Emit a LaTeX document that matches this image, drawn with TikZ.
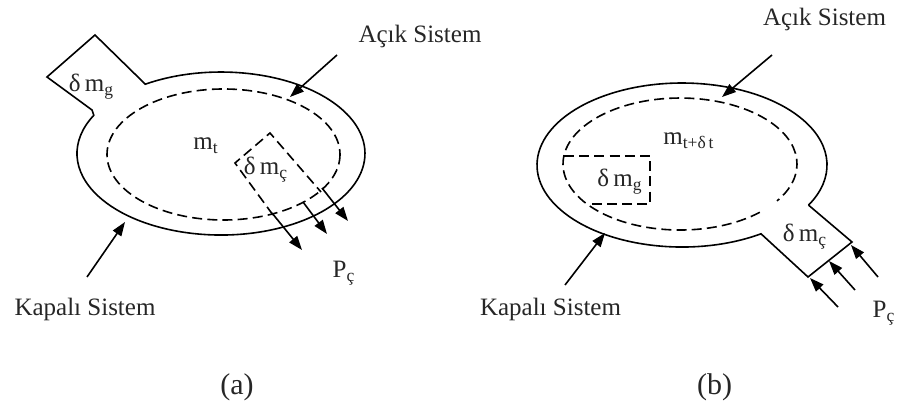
\documentclass[tikz,border=0pt]{standalone}
\usepackage{fontspec}
\setmainfont{Liberation Serif}
\usetikzlibrary{arrows.meta}
\begin{document}
\begin{tikzpicture}[x=0.5pt,y=-0.5pt,
  solidline/.style={draw=black, line width=0.8pt},
  dashline/.style={draw=black, line width=0.8pt, dash pattern=on 5pt off 2.6pt},
  arr/.style={draw=black, line width=0.8pt, -{Triangle[length=7pt,width=5pt]}},
  lbl/.style={inner sep=0pt, anchor=base, font=\fontsize{12.5}{15}\selectfont, text=black!85},
  caplbl/.style={inner sep=0pt, anchor=center, font=\fontsize{15}{18}\selectfont, text=black!85}]
\useasboundingbox (0,0) rectangle (898,405);

% ---------------- (a) ----------------
% outer (closed system) with inlet box
\draw[solidline] (145.3,84.2) arc[start angle=238.3, end angle=568, x radius=144, y radius=81.5]
   -- (92,110) -- (47,77) -- (95,35) -- cycle;
% inner dashed (open system)
\draw[dashline] (223.5,154.5) ellipse[x radius=116.5, y radius=65.5];
% outgoing dashed mass element
\draw[dashline] (273,215) -- (235,163) -- (270,133) -- (321,192);

\node[lbl] (aAcik) at (420,43) {Açık Sistem};
\node[lbl] (aKapali) at (85,315) {Kapalı Sistem};
\node[lbl] (amt) at (206,150) {m\textsubscript{t}};
\node[lbl] (admg) at (91.5,92) {δ\,m\textsubscript{g}};
\node[lbl] (admc) at (266,175) {δ\,m\textsubscript{ç}};
\node[lbl] (aPc) at (344,278) {P\textsubscript{ç}};
\node[caplbl] (acap) at (237,387.5) {(a)};

\coordinate (aA1) at (337,55);  \coordinate (aA2) at (290,97);
\coordinate (aK1) at (87,277);  \coordinate (aK2) at (125,222);
\draw[arr] (aA1) -- (aA2);
\draw[arr] (aK1) -- (aK2);

\coordinate (ap1s) at (272,213); \coordinate (ap1e) at (302,250);
\coordinate (ap2s) at (303,202); \coordinate (ap2e) at (327,234);
\coordinate (ap3s) at (322,188); \coordinate (ap3e) at (348,221);
\draw[arr] (ap1s) -- (ap1e);
\draw[arr] (ap2s) -- (ap2e);
\draw[arr] (ap3s) -- (ap3e);

% ---------------- (b) ----------------
\draw[solidline] (808.5,205.1) -- (852,242) -- (808,277) -- (761,233.8)
   arc[start angle=57, end angle=389.3, x radius=145, y radius=82];
\draw[dashline] (759.8,212.3) arc[start angle=47, end angle=394, x radius=117, y radius=66];
\draw[dashline] (564,156) -- (650,156) -- (650,204) -- (588,204);

\node[lbl] (bAcik) at (824.5,26) {Açık Sistem};
\node[lbl] (bKapali) at (550.5,315) {Kapalı Sistem};
\node[lbl] (bmt) at (689,145) {m\textsubscript{t+δ\,t}};
\node[lbl] (bdmg) at (620,187) {δ\,m\textsubscript{g}};
\node[lbl] (bdmc) at (805,242) {δ\,m\textsubscript{ç}};
\node[lbl] (bPc) at (884,318) {P\textsubscript{ç}};
\node[caplbl] (bcap) at (714.5,387.5) {(b)};

\coordinate (bA1) at (772,55);  \coordinate (bA2) at (722,97);
\coordinate (bK1) at (565,285); \coordinate (bK2) at (605,233);
\draw[arr] (bA1) -- (bA2);
\draw[arr] (bK1) -- (bK2);

\coordinate (bp1s) at (838,307); \coordinate (bp1e) at (810,278);
\coordinate (bp2s) at (855,290); \coordinate (bp2e) at (829,261);
\coordinate (bp3s) at (878,277); \coordinate (bp3e) at (851,245);
\draw[arr] (bp1s) -- (bp1e);
\draw[arr] (bp2s) -- (bp2e);
\draw[arr] (bp3s) -- (bp3e);
\end{tikzpicture}
\end{document}
